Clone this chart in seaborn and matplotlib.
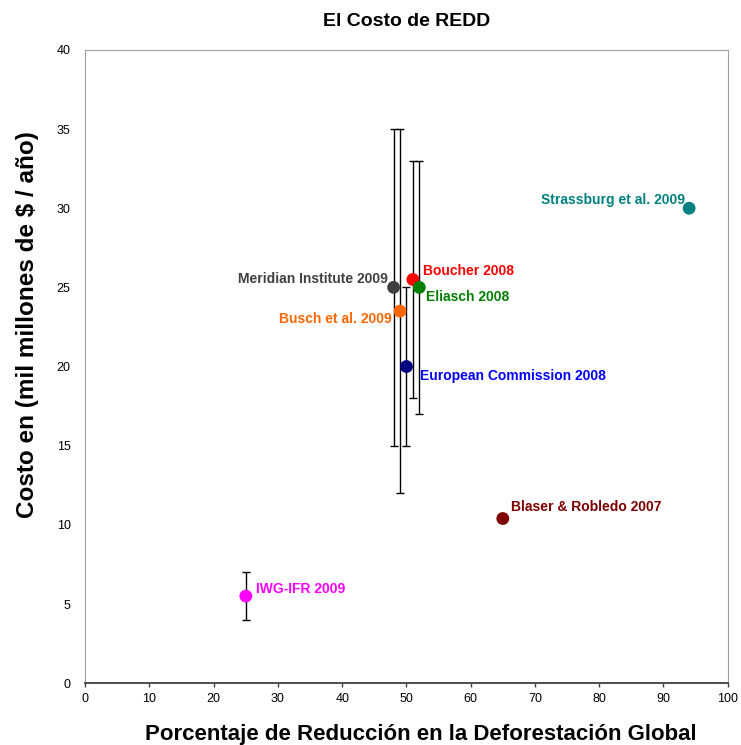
import pandas as pd
import matplotlib
matplotlib.use("Agg")
import matplotlib.pyplot as plt
import seaborn as sns

# Data
studies = ["Meridian Institute 2009", "Busch et al. 2009", "European Commission 2008",
           "Boucher 2008", "Eliasch 2008", "IWG-IFR 2009",
           "Strassburg et al. 2009", "Blaser & Robledo 2007"]
reduction = [48, 49, 50, 51, 52, 25, 94, 65]
cost = [25, 23.5, 20, 25.5, 25, 5.5, 30, 10.4]
cost_low = [15, 12, 15, 18, 17, 4, None, None]
cost_high = [35, 35, 25, 33, 33, 7, None, None]

point_colors = ["#404040", "#FF6600", "#000080", "#FF0000", "#008000",
                "#FF00FF", "#008080", "#800000"]
label_colors = ["#404040", "#FF6600", "#0000FF", "#FF0000", "#008000",
                "#FF00FF", "#008080", "#800000"]
# label offsets in points, and horizontal alignment
label_offsets = [(-4, 6), (-6, -6), (10, -7), (7, 6), (5, -7), (7, 5), (-3, 6), (6, 8)]
label_ha = ["right", "right", "left", "left", "left", "left", "right", "left"]

df = pd.DataFrame({"Study": studies, "Reduction": reduction, "Cost": cost,
                   "Low": cost_low, "High": cost_high})

sns.set_style("white")
plt.rcParams["font.family"] = ["Liberation Sans", "DejaVu Sans"]
plt.rcParams["text.color"] = "black"
plt.rcParams["axes.labelcolor"] = "black"
plt.rcParams["xtick.color"] = "black"
plt.rcParams["ytick.color"] = "black"

fig, ax = plt.subplots(figsize=(7.41, 7.45), dpi=100)
fig.subplots_adjust(left=0.115, right=0.982, top=0.933, bottom=0.083)

# error bars first so the dots sit on top
bars = df.dropna()
ax.errorbar(bars["Reduction"], bars["Cost"],
            yerr=[bars["Cost"] - bars["Low"], bars["High"] - bars["Cost"]],
            fmt="none", ecolor="black", elinewidth=1.0, capsize=3, capthick=1.0, zorder=2)

sns.scatterplot(data=df, x="Reduction", y="Cost", hue="Study",
                palette=dict(zip(studies, point_colors)), s=85,
                edgecolor="none", legend=False, ax=ax, zorder=3)

for i, row in df.iterrows():
    ax.annotate(row["Study"], (row["Reduction"], row["Cost"]),
                xytext=label_offsets[i], textcoords="offset points",
                ha=label_ha[i], va="center", fontsize=10, fontweight="bold",
                color=label_colors[i])

ax.set_xlim(0, 100)
ax.set_ylim(0, 40)
ax.set_xticks(range(0, 101, 10))
ax.set_yticks(range(0, 41, 5))
ax.tick_params(axis="x", labelsize=9, direction="out", length=3, width=1,
               bottom=True, color="#404040", pad=4)
ax.tick_params(axis="y", labelsize=9, left=False, pad=7)
for side in ax.spines.values():
    side.set_color("#A0A0A0")
ax.spines["bottom"].set_color("#404040")
ax.spines["bottom"].set_linewidth(1.3)

ax.set_title("El Costo de REDD", fontsize=14, fontweight="bold", pad=17)
ax.set_xlabel("Porcentaje de Reducción en la Deforestación Global",
              fontsize=16, fontweight="bold")
ax.set_ylabel("Costo en (mil millones de $ / año)",
              fontsize=17.5, fontweight="bold")
ax.xaxis.set_label_coords(0.523, -0.065)
ax.yaxis.set_label_coords(-0.072, 0.567)

fig.savefig("out.png", dpi=100, facecolor="white")
